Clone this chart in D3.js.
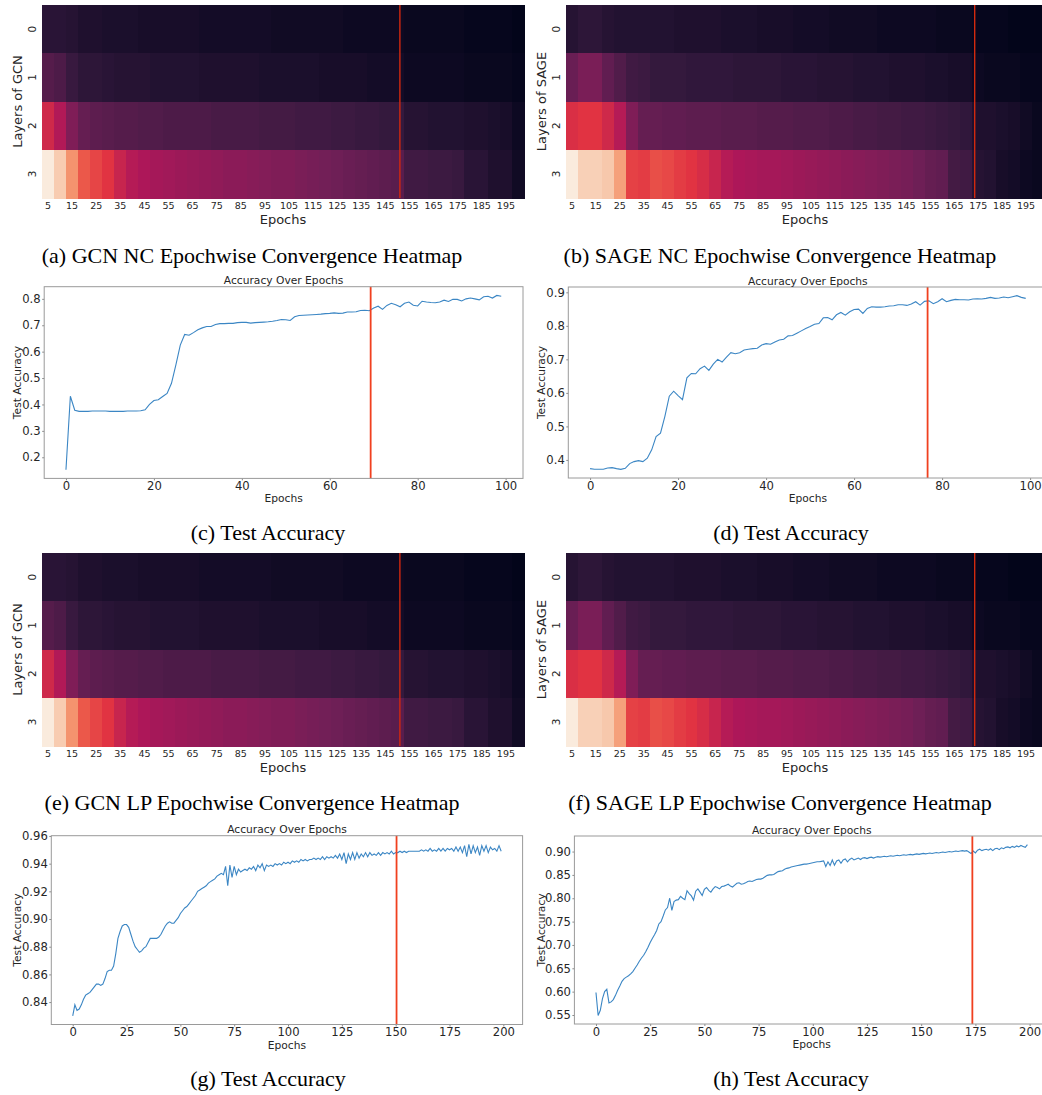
<!DOCTYPE html>
<html>
<head>
<meta charset="utf-8">
<script src="https://cdn.jsdelivr.net/npm/d3@7"></script>
<style>
    body { margin: 0; background: #fff; }
    svg { display: block; }
    .caption { font-family: "Liberation Serif", "Times New Roman", serif; font-size: 22px; fill: #000; }
    .lbl { font-family: "DejaVu Sans", sans-serif; fill: #262626; }
</style>
</head>
<body>
<svg width="1042" height="1095"></svg>
<script>
// heatmap categorieen
var epochBins = [5, 10, 15, 20, 25, 30, 35, 40, 45, 50, 55, 60, 65, 70, 75, 80, 85, 90, 95, 100,
    105, 110, 115, 120, 125, 130, 135, 140, 145, 150, 155, 160, 165, 170, 175, 180, 185, 190, 195, 200];
var heatTickLabels = [5, 15, 25, 35, 45, 55, 65, 75, 85, 95, 105, 115, 125, 135, 145, 155, 165, 175, 185, 195];
var layers = [0, 1, 2, 3];

// GCN lagen (genormaliseerd), zelfde beeld voor NC en LP
var gcnLayer0 = [0.11, 0.11, 0.10, 0.08, 0.08, 0.07, 0.07, 0.07, 0.06, 0.06, 0.06, 0.06, 0.06, 0.05, 0.05, 0.05, 0.05, 0.05, 0.05, 0.04,
    0.04, 0.04, 0.04, 0.04, 0.04, 0.03, 0.03, 0.03, 0.03, 0.03, 0.02, 0.02, 0.02, 0.02, 0.02, 0.01, 0.01, 0.01, 0.01, 0.00];
var gcnLayer1 = [0.22, 0.20, 0.15, 0.12, 0.12, 0.11, 0.10, 0.10, 0.10, 0.09, 0.09, 0.09, 0.09, 0.08, 0.08, 0.08, 0.08, 0.08, 0.07, 0.07,
    0.07, 0.07, 0.07, 0.06, 0.06, 0.06, 0.06, 0.05, 0.05, 0.05, 0.03, 0.03, 0.03, 0.03, 0.03, 0.02, 0.02, 0.02, 0.02, 0.01];
var gcnLayer2 = [0.52, 0.44, 0.32, 0.26, 0.24, 0.23, 0.22, 0.22, 0.21, 0.21, 0.20, 0.20, 0.20, 0.20, 0.19, 0.19, 0.19, 0.19, 0.18, 0.18,
    0.18, 0.17, 0.17, 0.17, 0.16, 0.16, 0.15, 0.15, 0.14, 0.14, 0.10, 0.10, 0.09, 0.09, 0.09, 0.08, 0.08, 0.07, 0.06, 0.03];
var gcnLayer3 = [1.00, 0.92, 0.78, 0.65, 0.61, 0.57, 0.50, 0.45, 0.43, 0.41, 0.40, 0.39, 0.38, 0.37, 0.36, 0.35, 0.35, 0.34, 0.33, 0.32,
    0.32, 0.31, 0.30, 0.29, 0.28, 0.27, 0.26, 0.25, 0.24, 0.23, 0.17, 0.17, 0.16, 0.16, 0.15, 0.11, 0.11, 0.08, 0.08, 0.04];

// SAGE lagen
var sageLayer0 = [0.10, 0.12, 0.12, 0.10, 0.09, 0.09, 0.09, 0.09, 0.09, 0.08, 0.08, 0.08, 0.08, 0.07, 0.07, 0.07, 0.06, 0.06, 0.06, 0.05,
    0.05, 0.05, 0.04, 0.04, 0.04, 0.04, 0.03, 0.03, 0.03, 0.03, 0.03, 0.02, 0.02, 0.02, 0.01, 0.01, 0.01, 0.00, 0.00, 0.00];
var sageLayer1 = [0.27, 0.31, 0.31, 0.25, 0.21, 0.17, 0.16, 0.14, 0.14, 0.14, 0.13, 0.13, 0.13, 0.13, 0.12, 0.12, 0.12, 0.12, 0.11, 0.11,
    0.11, 0.10, 0.10, 0.10, 0.09, 0.09, 0.09, 0.08, 0.08, 0.08, 0.07, 0.07, 0.06, 0.06, 0.03, 0.02, 0.02, 0.02, 0.01, 0.01];
var sageLayer2 = [0.55, 0.57, 0.57, 0.52, 0.45, 0.32, 0.26, 0.26, 0.25, 0.25, 0.24, 0.24, 0.24, 0.23, 0.23, 0.23, 0.22, 0.22, 0.22, 0.21,
    0.21, 0.21, 0.20, 0.20, 0.19, 0.19, 0.18, 0.18, 0.17, 0.17, 0.16, 0.15, 0.14, 0.13, 0.08, 0.08, 0.07, 0.06, 0.04, 0.02];
var sageLayer3 = [1.00, 0.93, 0.93, 0.91, 0.81, 0.60, 0.59, 0.63, 0.615, 0.59, 0.57, 0.54, 0.50, 0.45, 0.43, 0.42, 0.41, 0.41, 0.40, 0.39,
    0.38, 0.37, 0.36, 0.35, 0.34, 0.33, 0.32, 0.31, 0.30, 0.28, 0.26, 0.25, 0.18, 0.17, 0.10, 0.09, 0.06, 0.05, 0.03, 0.02];

// convergentie punten (in kolommen van de heatmap)
var gcnHeatCut = 29.7;
var sageHeatCut = 34.2;

// test accuracy per epoch
var gcnNcAcc = [0.153, 0.431, 0.378, 0.374, 0.374, 0.374, 0.375, 0.375, 0.375, 0.375,
    0.374, 0.374, 0.374, 0.374, 0.375, 0.375, 0.375, 0.376, 0.380, 0.400,
    0.415, 0.418, 0.430, 0.442, 0.480, 0.550, 0.625, 0.665, 0.662, 0.672,
    0.683, 0.690, 0.695, 0.695, 0.703, 0.706, 0.706, 0.707, 0.707, 0.710,
    0.711, 0.711, 0.708, 0.710, 0.711, 0.712, 0.713, 0.715, 0.718, 0.722,
    0.721, 0.718, 0.732, 0.737, 0.738, 0.739, 0.740, 0.741, 0.742, 0.744,
    0.745, 0.747, 0.745, 0.746, 0.750, 0.750, 0.751, 0.756, 0.757, 0.755,
    0.765, 0.772, 0.760, 0.775, 0.783, 0.778, 0.770, 0.783, 0.788, 0.776,
    0.773, 0.791, 0.788, 0.786, 0.785, 0.788, 0.795, 0.790, 0.798, 0.798,
    0.792, 0.800, 0.803, 0.800, 0.796, 0.808, 0.810, 0.803, 0.813, 0.810];
var sageNcAcc = [0.374, 0.372, 0.372, 0.372, 0.376, 0.377, 0.374, 0.372, 0.375, 0.389,
    0.395, 0.398, 0.395, 0.405, 0.430, 0.470, 0.480, 0.530, 0.590, 0.605,
    0.592, 0.580, 0.645, 0.658, 0.657, 0.672, 0.680, 0.667, 0.686, 0.700,
    0.692, 0.707, 0.720, 0.717, 0.720, 0.728, 0.730, 0.732, 0.733, 0.743,
    0.747, 0.745, 0.752, 0.758, 0.760, 0.770, 0.771, 0.778, 0.785, 0.792,
    0.798, 0.805, 0.807, 0.824, 0.825, 0.818, 0.833, 0.840, 0.832, 0.842,
    0.849, 0.850, 0.837, 0.852, 0.857, 0.856, 0.856, 0.857, 0.859, 0.860,
    0.863, 0.863, 0.861, 0.865, 0.872, 0.862, 0.873, 0.875, 0.866, 0.872,
    0.881, 0.872, 0.876, 0.879, 0.878, 0.878, 0.877, 0.880, 0.881, 0.880,
    0.882, 0.885, 0.882, 0.883, 0.886, 0.884, 0.887, 0.890, 0.885, 0.882];
var gcnLpAcc = [0.830, 0.838, 0.834, 0.835, 0.838, 0.842, 0.845, 0.846, 0.847, 0.849,
    0.851, 0.853, 0.853, 0.852, 0.853, 0.857, 0.862, 0.863, 0.863, 0.866,
    0.875, 0.886, 0.891, 0.895, 0.896, 0.896, 0.894, 0.889, 0.884, 0.880,
    0.878, 0.876, 0.877, 0.879, 0.880, 0.883, 0.886, 0.886, 0.886, 0.886,
    0.887, 0.889, 0.892, 0.895, 0.897, 0.898, 0.897, 0.897, 0.899, 0.901,
    0.904, 0.906, 0.908, 0.909, 0.911, 0.913, 0.915, 0.917, 0.920, 0.921,
    0.922, 0.923, 0.924, 0.926, 0.927, 0.928, 0.929, 0.931, 0.932, 0.933,
    0.932, 0.938, 0.924, 0.939, 0.930, 0.938, 0.932, 0.936, 0.934, 0.935,
    0.936, 0.935, 0.937, 0.936, 0.938, 0.935, 0.939, 0.937, 0.940, 0.935,
    0.939, 0.938, 0.939, 0.938, 0.940, 0.939, 0.940, 0.939, 0.941, 0.940,
    0.941, 0.940, 0.942, 0.941, 0.942, 0.941, 0.943, 0.942, 0.943, 0.942,
    0.943, 0.943, 0.944, 0.943, 0.944, 0.943, 0.945, 0.943, 0.945, 0.944,
    0.945, 0.944, 0.946, 0.944, 0.947, 0.943, 0.948, 0.940, 0.947, 0.943,
    0.948, 0.943, 0.948, 0.944, 0.947, 0.945, 0.948, 0.945, 0.948, 0.946,
    0.947, 0.946, 0.948, 0.946, 0.948, 0.947, 0.948, 0.947, 0.949, 0.947,
    0.948, 0.948, 0.949, 0.948, 0.949, 0.948, 0.949, 0.949, 0.949, 0.949,
    0.949, 0.949, 0.950, 0.949, 0.950, 0.949, 0.951, 0.949, 0.950, 0.949,
    0.951, 0.949, 0.951, 0.949, 0.951, 0.950, 0.951, 0.949, 0.952, 0.949,
    0.952, 0.948, 0.953, 0.945, 0.954, 0.947, 0.953, 0.948, 0.952, 0.946,
    0.953, 0.949, 0.953, 0.948, 0.952, 0.950, 0.951, 0.949, 0.953, 0.949];
var sageLpAcc = [0.598, 0.549, 0.560, 0.585, 0.600, 0.605, 0.576, 0.578, 0.583, 0.592,
    0.603, 0.612, 0.622, 0.628, 0.631, 0.634, 0.638, 0.643, 0.650, 0.657,
    0.665, 0.672, 0.678, 0.686, 0.695, 0.705, 0.714, 0.722, 0.731, 0.745,
    0.750, 0.762, 0.775, 0.780, 0.800, 0.774, 0.793, 0.796, 0.797, 0.804,
    0.800, 0.797, 0.816, 0.810, 0.805, 0.796, 0.815, 0.820, 0.813, 0.806,
    0.819, 0.823, 0.817, 0.813, 0.820, 0.825, 0.823, 0.820, 0.825, 0.826,
    0.828, 0.830, 0.826, 0.824, 0.828, 0.832, 0.833, 0.830, 0.831, 0.833,
    0.836, 0.837, 0.836, 0.838, 0.840, 0.841, 0.841, 0.843, 0.846, 0.849,
    0.850, 0.850, 0.851, 0.854, 0.857, 0.858, 0.859, 0.862, 0.864, 0.865,
    0.867, 0.868, 0.869, 0.870, 0.871, 0.872, 0.873, 0.873, 0.874, 0.875,
    0.876, 0.877, 0.878, 0.878, 0.879, 0.880, 0.868, 0.878, 0.870, 0.882,
    0.871, 0.880, 0.882, 0.875, 0.882, 0.884, 0.878, 0.883, 0.886, 0.882,
    0.884, 0.886, 0.883, 0.886, 0.887, 0.885, 0.887, 0.888, 0.886, 0.888,
    0.889, 0.888, 0.889, 0.890, 0.889, 0.890, 0.891, 0.890, 0.891, 0.892,
    0.891, 0.892, 0.893, 0.892, 0.893, 0.894, 0.893, 0.894, 0.895, 0.894,
    0.895, 0.896, 0.895, 0.896, 0.897, 0.896, 0.897, 0.898, 0.897, 0.898,
    0.899, 0.898, 0.899, 0.900, 0.899, 0.900, 0.901, 0.900, 0.901, 0.902,
    0.901, 0.902, 0.899, 0.896, 0.901, 0.897, 0.903, 0.905, 0.902, 0.904,
    0.905, 0.903, 0.906, 0.902, 0.906, 0.907, 0.904, 0.908, 0.906, 0.909,
    0.910, 0.908, 0.911, 0.909, 0.912, 0.910, 0.913, 0.911, 0.909, 0.915];

// convergentie punten (epoch)
var gcnNcCut = 69.3, sageNcCut = 76.7, gcnLpCut = 150.4, sageLpCut = 173.6;

// tick labels van de lijn grafieken
var epochTicks100 = [0, 20, 40, 60, 80, 100];
var epochTicks200 = [0, 25, 50, 75, 100, 125, 150, 175, 200];
var gcnNcTicks = [0.2, 0.3, 0.4, 0.5, 0.6, 0.7, 0.8];
var sageNcTicks = [0.4, 0.5, 0.6, 0.7, 0.8, 0.9];
var gcnLpTicks = [0.84, 0.86, 0.88, 0.90, 0.92, 0.94, 0.96];
var sageLpTicks = [0.55, 0.60, 0.65, 0.70, 0.75, 0.80, 0.85, 0.90];

var svg = d3.select("svg");
svg.append("rect").attr("width", 1042).attr("height", 1095).attr("fill", "#fff");

// "rocket" kleurenschaal van seaborn benaderd
var color = d3.scaleLinear()
    .domain([0, 0.143, 0.286, 0.429, 0.571, 0.714, 0.857, 1])
    .range(["#03051a", "#35193e", "#701f57", "#ad1759", "#e13342", "#f37651", "#f6b48f", "#faebdd"])
    .interpolate(d3.interpolateRgb)
    .clamp(true);

function heatmap(box, rows, cut, ylabel) {
    var x = d3.scaleBand().domain(epochBins).range([box.left, box.right]),
        y = d3.scaleBand().domain(layers).range([box.top, box.bottom]),
        xc = d3.scaleLinear().domain([0, epochBins.length]).range([box.left, box.right]);

    var cells = [];
    rows.forEach(function (row, i) {
        row.forEach(function (v, j) {
            cells.push({ layer: layers[i], epoch: epochBins[j], v: v });
        });
    });

    var g = svg.append("g");
    // cellen op hele pixels om naden te voorkomen
    g.selectAll(".cell")
        .data(cells)
        .enter().append("rect")
        .attr("class", "cell")
        .attr("shape-rendering", "crispEdges")
        .attr("x", function (d) { return Math.round(x(d.epoch)); })
        .attr("y", function (d) { return Math.round(y(d.layer)); })
        .attr("width", function (d) { return Math.round(x(d.epoch) + x.bandwidth()) - Math.round(x(d.epoch)) + 1; })
        .attr("height", function (d) { return Math.round(y(d.layer) + y.bandwidth()) - Math.round(y(d.layer)) + 1; })
        .attr("fill", function (d) { return color(d.v); });

    // rode lijn = convergentie
    g.append("line")
        .attr("x1", xc(cut)).attr("x2", xc(cut))
        .attr("y1", box.top).attr("y2", box.bottom)
        .attr("stroke", "#d2290e").attr("stroke-width", 1.4);

    // X as
    var ax = g.append("g")
        .attr("transform", "translate(0," + box.bottom + ")")
        .call(d3.axisBottom(x).tickValues(heatTickLabels).tickSize(0).tickPadding(4.5));
    ax.select(".domain").remove();
    ax.attr("font-family", "DejaVu Sans").attr("font-size", 9.5);
    ax.selectAll("text").attr("fill", "#262626");

    // Y as, labels gedraaid
    var ay = g.append("g")
        .attr("transform", "translate(" + box.left + ",0)")
        .call(d3.axisLeft(y).tickSize(0));
    ay.select(".domain").remove();
    ay.attr("font-family", "DejaVu Sans").attr("font-size", 10.5);
    ay.selectAll("text")
        .attr("x", null).attr("dy", null)
        .attr("text-anchor", "middle")
        .attr("fill", "#262626")
        .attr("transform", "translate(-6.5,0) rotate(-90)");

    g.append("text")
        .attr("class", "lbl")
        .attr("font-size", 13)
        .attr("text-anchor", "middle")
        .attr("x", (box.left + box.right) / 2)
        .attr("y", box.bottom + 25.5)
        .text("Epochs");

    g.append("text")
        .attr("class", "lbl")
        .attr("font-size", 13)
        .attr("text-anchor", "middle")
        .attr("transform", "translate(" + (box.left - 20) + "," + ((box.top + box.bottom) / 2) + ") rotate(-90)")
        .text(ylabel);
}

function lineChart(box, values, cut, xTicks, yTicks, yFormat) {
    var n = values.length,
        xPad = (n - 1) * 0.05,
        ext = d3.extent(values),
        yPad = (ext[1] - ext[0]) * 0.05;

    var x = d3.scaleLinear().domain([-xPad, n - 1 + xPad]).range([box.left, box.right]),
        y = d3.scaleLinear().domain([ext[0] - yPad, ext[1] + yPad]).range([box.bottom, box.top]);

    var g = svg.append("g");

    var line = d3.line()
        .x(function (d, i) { return x(i); })
        .y(function (d) { return y(d); });

    g.append("path")
        .datum(values)
        .attr("fill", "none")
        .attr("stroke", "#3b86c4")
        .attr("stroke-width", 1.1)
        .attr("d", line);

    g.append("line")
        .attr("x1", x(cut)).attr("x2", x(cut))
        .attr("y1", box.top).attr("y2", box.bottom)
        .attr("stroke", "#f0401f").attr("stroke-width", 1.8);

    // assen
    var ax = g.append("g")
        .attr("transform", "translate(0," + box.bottom + ")")
        .call(d3.axisBottom(x).tickValues(xTicks).tickSize(2).tickPadding(1.5));
    var ay = g.append("g")
        .attr("transform", "translate(" + box.left + ",0)")
        .call(d3.axisLeft(y).tickValues(yTicks).tickFormat(d3.format(yFormat)).tickSize(2).tickPadding(1.5));
    [ax, ay].forEach(function (a) {
        a.select(".domain").remove();
        a.attr("font-family", "DejaVu Sans").attr("font-size", 11.6);
        a.selectAll("line").attr("stroke", "#8a8a8a");
        a.selectAll("text").attr("fill", "#262626");
    });

    g.append("rect")
        .attr("x", box.left).attr("y", box.top)
        .attr("width", box.right - box.left).attr("height", box.bottom - box.top)
        .attr("fill", "none").attr("stroke", "#9a9a9a").attr("stroke-width", 1);

    g.append("text")
        .attr("class", "lbl")
        .attr("font-size", 10.7)
        .attr("text-anchor", "middle")
        .attr("x", (box.left + box.right) / 2)
        .attr("y", box.top - 2.5)
        .text("Accuracy Over Epochs");

    g.append("text")
        .attr("class", "lbl")
        .attr("font-size", 10.7)
        .attr("text-anchor", "middle")
        .attr("x", (box.left + box.right) / 2)
        .attr("y", box.bottom + 24)
        .text("Epochs");

    g.append("text")
        .attr("class", "lbl")
        .attr("font-size", 10.7)
        .attr("text-anchor", "middle")
        .attr("transform", "translate(" + box.ylab + "," + ((box.top + box.bottom) / 2) + ") rotate(-90)")
        .text("Test Accuracy");
}

function caption(x, y, txt) {
    svg.append("text")
        .attr("class", "caption")
        .attr("text-anchor", "middle")
        .attr("x", x).attr("y", y)
        .text(txt);
}

// bovenste rij heatmaps (NC)
heatmap({ left: 42, right: 524, top: 5, bottom: 198 }, [gcnLayer0, gcnLayer1, gcnLayer2, gcnLayer3], gcnHeatCut, "Layers of GCN");
heatmap({ left: 566, right: 1044, top: 5, bottom: 198 }, [sageLayer0, sageLayer1, sageLayer2, sageLayer3], sageHeatCut, "Layers of SAGE");
caption(252, 263, "(a) GCN NC Epochwise Convergence Heatmap");
caption(780, 263, "(b) SAGE NC Epochwise Convergence Heatmap");

lineChart({ left: 44.2, right: 523, top: 286.7, bottom: 478.4, ylab: 21 }, gcnNcAcc, gcnNcCut, epochTicks100, gcnNcTicks, ".1f");
lineChart({ left: 568.3, right: 1047.5, top: 287, bottom: 478, ylab: 544.5 }, sageNcAcc, sageNcCut, epochTicks100, sageNcTicks, ".1f");
caption(268, 540, "(c) Test Accuracy");
caption(791, 540, "(d) Test Accuracy");

// heatmaps (LP)
heatmap({ left: 42, right: 524, top: 553, bottom: 746 }, [gcnLayer0, gcnLayer1, gcnLayer2, gcnLayer3], gcnHeatCut, "Layers of GCN");
heatmap({ left: 566, right: 1044, top: 553, bottom: 746 }, [sageLayer0, sageLayer1, sageLayer2, sageLayer3], sageHeatCut, "Layers of SAGE");
caption(252, 810, "(e) GCN LP Epochwise Convergence Heatmap");
caption(780, 810, "(f) SAGE LP Epochwise Convergence Heatmap");

lineChart({ left: 51.3, right: 522.6, top: 835.7, bottom: 1024.5, ylab: 20.6 }, gcnLpAcc, gcnLpCut, epochTicks200, gcnLpTicks, ".2f");
lineChart({ left: 574.4, right: 1049, top: 836, bottom: 1024, ylab: 544.6 }, sageLpAcc, sageLpCut, epochTicks200, sageLpTicks, ".2f");
caption(268, 1086, "(g) Test Accuracy");
caption(791, 1086, "(h) Test Accuracy");
</script>
</body>
</html>
